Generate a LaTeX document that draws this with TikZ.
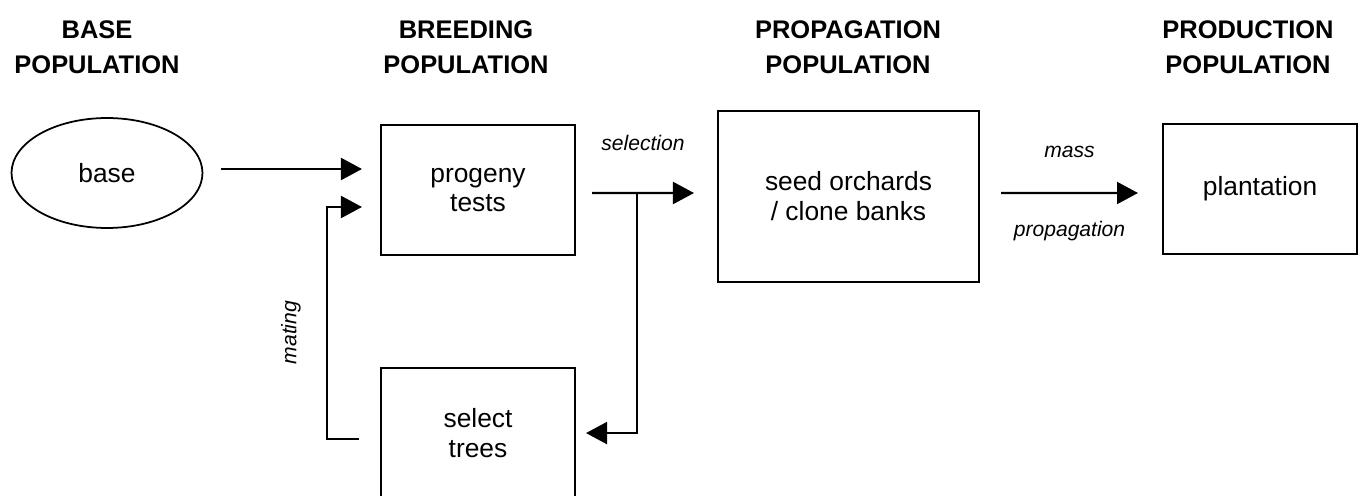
\documentclass[tikz,border=0pt]{standalone}
\usepackage{fontspec}
\setmainfont{Liberation Sans}
\usetikzlibrary{arrows.meta, positioning, shapes.geometric}

\begin{document}
\begin{tikzpicture}[
    x=0.02cm, y=-0.02cm,
    box/.style={rectangle, draw=black, line width=1.2pt, minimum width=3.88cm, minimum height=2.6cm, align=center, inner sep=0pt, font=\fontsize{15}{17}\selectfont},
    pool/.style={ellipse, draw=black, line width=1pt, minimum width=3.82cm, minimum height=2.2cm, inner sep=0pt, font=\fontsize{15}{17}\selectfont},
    heading/.style={align=center, font=\bfseries\fontsize{14.5}{20}\selectfont},
    flow/.style={draw, line width=1.2pt, -{Triangle[length=0.42cm, width=0.44cm]}},
    lbl/.style={font=\itshape\fontsize{12}{14}\selectfont, inner sep=0pt},
]
    \useasboundingbox (0,0) rectangle (1362,496);

    % Headings
    \node[heading] (hbase) at (97,47) {BASE\\POPULATION};
    \node[heading] (hbreed) at (466,47) {BREEDING\\POPULATION};
    \node[heading] (hprop) at (848,47) {PROPAGATION\\POPULATION};
    \node[heading] (hprod) at (1248,47) {PRODUCTION\\POPULATION};

    % Populations
    \node[pool] (base) at (107,173) {base};
    \node[box] (progeny) at (478,190) {progeny\\tests};
    \node[box, below=2.22cm of progeny] (select) {select\\trees};
    \node[box, minimum width=5.22cm, minimum height=3.42cm] (seed) at (848.5,196.5) {seed orchards\\/ clone banks};
    \node[box, right=3.64cm of seed, yshift=0.15cm] (plant) {plantation};

    % Into breeding
    \draw[flow] ([xshift=-3.18cm,yshift=0.42cm]progeny.west) -- ([xshift=-0.36cm,yshift=0.42cm]progeny.west);

    % Mating loop
    \draw[flow] ([xshift=-0.42cm,yshift=-0.11cm]select.west) -- ++(-0.64cm,0) |- ([xshift=-0.36cm,yshift=-0.34cm]progeny.west);
    \node[lbl, rotate=90] (matelbl) at ([xshift=-1.78cm,yshift=2.01cm]select.west) {mating};

    % Selection
    \coordinate (split) at ([xshift=0.32cm,yshift=-0.06cm]progeny.east);
    \coordinate (fork) at ([xshift=0.9cm]split);
    \draw[flow] (split) -- node[lbl, yshift=1cm] {selection} ([xshift=-0.46cm,yshift=0.07cm]seed.west);
    \draw[flow] (fork) |- ([xshift=0.2cm]select.east);

    % Mass propagation
    \draw[flow] ([xshift=0.42cm,yshift=0.07cm]seed.east) -- node[lbl, yshift=0.82cm] {mass} node[lbl, yshift=-0.76cm] {propagation} ([xshift=-0.48cm,yshift=-0.08cm]plant.west);
\end{tikzpicture}
\end{document}
